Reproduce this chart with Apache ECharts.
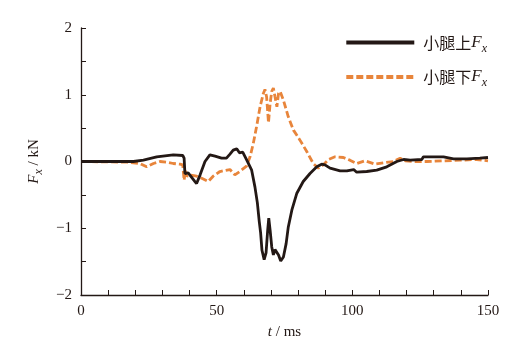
<!DOCTYPE html>
<html><head><meta charset="utf-8">
<script src="https://cdn.jsdelivr.net/npm/echarts@6/dist/echarts.min.js"></script>
<style>html,body{margin:0;padding:0;background:#fff}#c{width:524px;height:358px}</style>
</head><body><div id="c"></div>
<script>
// Time (ms) and force (kN) for the upper-leg sensor
const tUpper = [0, 19.3, 23, 27.9, 34, 37.5, 38, 38.3, 39.5, 42, 42.6, 43.9, 45.7, 47.5, 49.4, 51.8, 53.6, 54.9, 56.1, 57.4, 58.4, 59.6, 61.1, 62.9, 64.1, 65, 65.7, 66.2, 66.7, 67.5, 68.2, 68.8, 69.2, 69.7, 70.3, 70.9, 71.5, 72.2, 72.8, 73.6, 74.6, 75.6, 76.4, 77.7, 79.5, 81.9, 84.4, 86.9, 88.7, 89.9, 91.8, 95.5, 98, 100.5, 101.6, 105.3, 109, 112.7, 116.4, 118.9, 121.3, 125.6, 126.2, 129.9, 133.6, 137.3, 142.2, 147, 150];
const fxUpper = [0, 0, 0.02, 0.07, 0.1, 0.09, 0.05, -0.18, -0.17, -0.3, -0.33, -0.2, 0, 0.1, 0.08, 0.05, 0.05, 0.11, 0.17, 0.19, 0.13, 0.14, 0.02, -0.13, -0.38, -0.62, -0.9, -1.07, -1.33, -1.47, -1.37, -1.03, -0.85, -1.03, -1.28, -1.4, -1.32, -1.33, -1.4, -1.49, -1.43, -1.23, -0.98, -0.73, -0.48, -0.3, -0.18, -0.08, -0.04, -0.05, -0.1, -0.14, -0.14, -0.12, -0.16, -0.15, -0.13, -0.08, 0, 0.03, 0.02, 0.03, 0.07, 0.07, 0.07, 0.04, 0.04, 0.05, 0.06];
// Time (ms) and force (kN) for the lower-leg sensor
const tLower = [0, 17, 21.7, 24.2, 26.7, 29.1, 31.6, 34, 36.5, 37.5, 38, 38.5, 39, 40.2, 42.6, 44.5, 46.9, 48.7, 51.2, 54.9, 56.7, 58.5, 61, 62.3, 63.5, 64.7, 66, 67.2, 67.8, 68.4, 69.1, 69.7, 70.3, 70.9, 71.5, 72.2, 72.8, 73.4, 74.6, 76.4, 78.3, 80.7, 83.2, 85.6, 87.5, 89.3, 91.2, 93.6, 96.7, 99.1, 101.6, 104.7, 108.4, 111.4, 115.1, 117.6, 119.5, 122.5, 127.4, 133.6, 139.7, 145.9, 150];
const fxLower = [0, -0.01, -0.03, -0.08, -0.03, 0, -0.01, -0.03, -0.04, -0.05, -0.28, -0.13, -0.22, -0.2, -0.22, -0.25, -0.3, -0.22, -0.15, -0.12, -0.2, -0.15, -0.07, 0.07, 0.27, 0.52, 0.82, 1.02, 1.08, 0.97, 0.58, 0.87, 1.05, 1.1, 0.97, 0.82, 1.02, 1.05, 0.92, 0.67, 0.47, 0.32, 0.15, -0.03, -0.1, -0.05, 0.03, 0.07, 0.06, 0.02, -0.03, 0.01, -0.04, -0.02, 0, 0.05, 0.01, 0, 0, 0.01, 0.02, 0.03, 0.01];
const seriesNames = ['小腿上Fx', '小腿下Fx'];
const xTicks = [0, 50, 100, 150];
const yTicks = [-2, -1, 0, 1, 2];

const ink = '#231815';
const orange = '#e8853b';
const serif = '"Liberation Serif","DejaVu Serif",serif';
const cjk = '"Noto Sans CJK SC",sans-serif';

const zip = (a, b) => a.map((v, i) => [v, b[i]]);

const chart = echarts.init(document.getElementById('c'));
chart.setOption({
  animation: false,
  backgroundColor: '#fff',
  grid: { left: 81, right: 36, top: 28, bottom: 63 },
  legend: {
    orient: 'vertical', right: 32, top: 29, itemWidth: 68, itemHeight: 12, itemGap: 14,
    data: seriesNames,
    itemStyle: { opacity: 0 },
    lineStyle: { width: 4 },
    formatter: n => '{c|' + n.slice(0, 3) + '}{f|F}{s|x}',
    textStyle: {
      color: ink,
      rich: {
        c: { fontFamily: cjk, fontSize: 16, color: ink, padding: [0, 0, 0, 4] },
        f: { fontFamily: serif, fontSize: 17, fontStyle: 'italic', color: ink },
        s: { fontFamily: serif, fontSize: 12, fontStyle: 'italic', color: ink, padding: [12, 0, 0, 0] }
      }
    }
  },
  xAxis: {
    type: 'value', min: xTicks[0], max: xTicks[xTicks.length - 1], interval: 50,
    name: '{i|t} / ms', nameLocation: 'middle', nameGap: 30,
    nameTextStyle: { fontFamily: serif, fontSize: 15, color: ink, rich: { i: { fontFamily: serif, fontSize: 15, fontStyle: 'italic', color: ink } } },
    axisLine: { onZero: false, lineStyle: { color: ink, width: 1.3 } },
    axisTick: { inside: true, length: 5, lineStyle: { color: ink } },
    minorTick: { show: true, splitNumber: 5, length: 5, lineStyle: { color: ink } },
    splitLine: { show: false },
    axisLabel: { fontFamily: serif, fontSize: 15, color: ink, margin: 9 }
  },
  yAxis: {
    type: 'value', min: yTicks[0], max: yTicks[yTicks.length - 1], interval: 1,
    name: '{f|F}{s|x} / kN', nameLocation: 'middle', nameGap: 27, nameRotate: 90,
    nameTextStyle: { fontFamily: serif, fontSize: 15, color: ink,
      rich: {
        f: { fontFamily: serif, fontSize: 15, fontStyle: 'italic', color: ink },
        s: { fontFamily: serif, fontSize: 12, fontStyle: 'italic', color: ink, padding: [10, 0, 0, 0] }
      } },
    axisLine: { show: true, onZero: false, lineStyle: { color: ink, width: 1.3 } },
    axisTick: { show: true, inside: true, length: 5, lineStyle: { color: ink } },
    minorTick: { show: true, splitNumber: 2, length: 5, lineStyle: { color: ink } },
    splitLine: { show: false },
    axisLabel: { fontFamily: serif, fontSize: 15, color: ink, margin: 9,
      formatter: v => String(v).replace('-', '\u2212') }
  },
  series: [
    { name: seriesNames[0], type: 'line', data: zip(tUpper, fxUpper), symbol: 'none',
      lineStyle: { color: ink, width: 2.8 }, itemStyle: { color: ink }, z: 3 },
    { name: seriesNames[1], type: 'line', data: zip(tLower, fxLower), symbol: 'none',
      lineStyle: { color: orange, width: 2.8, type: [7, 3] }, itemStyle: { color: orange }, z: 2 }
  ]
});
</script></body></html>
